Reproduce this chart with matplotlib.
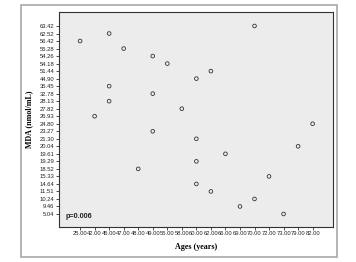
import matplotlib
matplotlib.use("Agg")
import matplotlib.pyplot as plt
from matplotlib.patches import Rectangle

# Category axes (SPSS-style)
age_categories = ["25.00", "42.00", "45.00", "47.00", "48.00", "49.00", "55.00", "58.00",
                  "60.00", "62.00", "66.00", "69.00", "70.00", "72.00", "73.00", "79.00", "82.00"]
mda_categories = ["5.04", "9.46", "10.24", "11.51", "14.64", "15.33", "18.52", "19.29",
                  "19.61", "20.04", "21.30", "23.27", "24.80", "26.93", "27.82", "28.13",
                  "32.78", "35.45", "44.90", "51.44", "54.18", "54.26", "55.28", "56.42",
                  "62.52", "63.42"]

# Data points (age, MDA)
ages = ["25.00", "45.00", "47.00", "49.00", "55.00", "62.00", "60.00", "70.00", "45.00",
        "49.00", "45.00", "58.00", "42.00", "82.00", "49.00", "60.00", "79.00", "66.00",
        "60.00", "48.00", "72.00", "60.00", "62.00", "70.00", "69.00", "73.00"]
mda = ["56.42", "62.52", "55.28", "54.26", "54.18", "51.44", "44.90", "63.42", "35.45",
       "32.78", "28.13", "27.82", "26.93", "24.80", "23.27", "21.30", "20.04", "19.61",
       "19.29", "18.52", "15.33", "14.64", "11.51", "10.24", "9.46", "5.04"]
p_text = "p=0.006"

fig = plt.figure(figsize=(3.56, 2.62), dpi=100)
fig.patch.set_facecolor("white")

# outer frame
fig.patches.append(Rectangle((21 / 356, 1 - 257 / 262), (337 - 21) / 356, (257 - 5) / 262,
                             transform=fig.transFigure, fill=False,
                             edgecolor="#a8a8a8", linewidth=1.2))

ax = fig.add_axes([59 / 356, 1 - 227 / 262, (333 - 59) / 356, (227 - 12) / 262])
ax.set_facecolor("#ececec")

xi = [age_categories.index(a) for a in ages]
yi = [mda_categories.index(m) for m in mda]
ax.scatter(xi, yi, s=7, facecolors="none", edgecolors="#333333", linewidths=0.6, zorder=3)

ax.set_xticks(range(len(age_categories)))
ax.set_xticklabels(age_categories, fontsize=4.2, family="Liberation Sans", color="#222222")
ax.set_yticks(range(len(mda_categories)))
ax.set_yticklabels(mda_categories, fontsize=4.2, family="Liberation Sans", color="#222222")
ax.set_xlim(-1.45, len(age_categories) - 1 + 1.4)
ax.set_ylim(-1.73, len(mda_categories) - 1 + 1.86)

ax.tick_params(axis="both", direction="out", length=2.2, width=0.6, pad=1, color="#333333")
for s in ax.spines.values():
    s.set_color("#333333")
    s.set_linewidth(0.8)

ax.set_xlabel("Ages (years)", fontsize=5.8, family="Liberation Serif", fontweight="bold",
              labelpad=5)
ax.set_ylabel("MDA (nmol/mL)", fontsize=5.8, family="Liberation Serif", fontweight="bold",
              labelpad=5)

ax.text(0.025, 0.05, p_text, transform=ax.transAxes, fontsize=5.2,
        family="Liberation Sans", fontweight="bold", color="#222222", va="center", ha="left")

fig.savefig("out.png", dpi=100)
